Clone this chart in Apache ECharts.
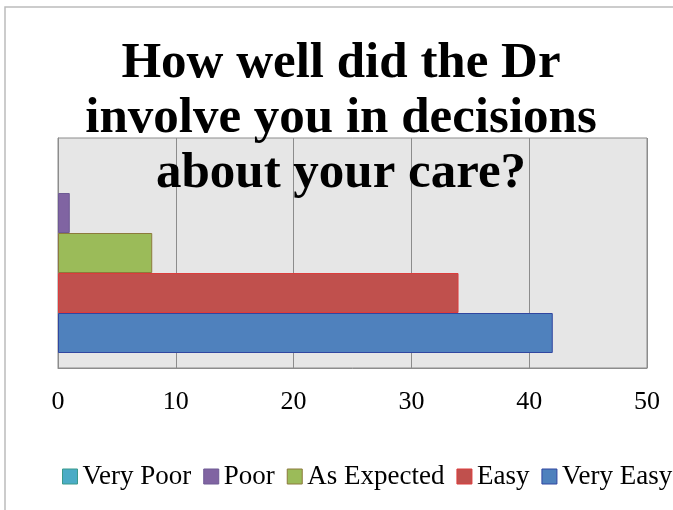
<!DOCTYPE html>
<html>
<head>
<meta charset="utf-8">
<script src="https://cdn.jsdelivr.net/npm/echarts@6/dist/echarts.min.js"></script>
<style>
  html, body { margin: 0; padding: 0; background: #fff; }
  #chart { width: 673px; height: 510px; }
</style>
</head>
<body>
<div id="chart"></div>
<script>
// data
const categories = ['Responses'];
const seriesNames = ['Very Poor', 'Poor', 'As Expected', 'Easy', 'Very Easy'];
const seriesValues = [0, 1, 8, 34, 42];
const seriesColors = ['#4bacc6', '#8064a2', '#9bbb59', '#c0504d', '#4f81bd'];
const borderColors = ['#3a9a8c', '#6e5a94', '#8c7a3c', '#dc3c3c', '#3046a0'];
const xTicks = [0, 10, 20, 30, 40, 50];

const serif = '"Liberation Serif", "DejaVu Serif", serif';

const chart = echarts.init(document.getElementById('chart'));

// one bar series per answer, empty bars get no outline
const series = seriesNames.map((name, i) => ({
    type: 'bar',
    name: name,
    data: [seriesValues[i]],
    barWidth: 40,
    barGap: '0%',
    itemStyle: {
        color: seriesColors[i],
        borderColor: borderColors[i],
        borderWidth: seriesValues[i] ? 1 : 0
    }
}));

chart.setOption({
    animation: false,
    title: {
        text: 'How well did the Dr\ninvolve you in decisions\nabout your care?',
        left: 336,
        textAlign: 'center',
        top: 31,
        textStyle: {
            fontFamily: serif,
            fontWeight: 'bold',
            fontSize: 51,
            lineHeight: 55,
            color: '#000'
        }
    },
    legend: {
        data: seriesNames,
        left: 62,
        top: 463,
        padding: 0,
        width: 2000,
        itemWidth: 15,
        itemHeight: 15,
        itemGap: 12,
        icon: 'rect',
        itemStyle: { borderWidth: 1, borderColor: 'inherit' },
        textStyle: { fontFamily: serif, fontSize: 27, color: '#000' }
    },
    graphic: [{
        type: 'rect',
        shape: { x: 5, y: 7, width: 800, height: 700 },
        style: { fill: 'none', stroke: '#bcbcbc', lineWidth: 1.5 },
        silent: true
    }],
    grid: {
        left: 58, right: 26, top: 138, bottom: 142,
        show: true,
        backgroundColor: '#e6e6e6',
        borderColor: '#8c8c8c',
        borderWidth: 1
    },
    xAxis: {
        type: 'value',
        min: xTicks[0],
        max: xTicks[xTicks.length - 1],
        interval: 10,
        axisLine: { show: true, lineStyle: { color: '#8c8c8c' } },
        axisTick: { show: false },
        splitLine: { lineStyle: { color: '#8c8c8c', width: 1 } },
        axisLabel: { fontFamily: serif, fontSize: 26, color: '#000', margin: 21 }
    },
    yAxis: {
        type: 'category',
        data: categories,
        axisLine: { show: true, lineStyle: { color: '#8c8c8c' } },
        axisTick: { show: false },
        axisLabel: { show: false }
    },
    series: series
});
</script>
</body>
</html>
